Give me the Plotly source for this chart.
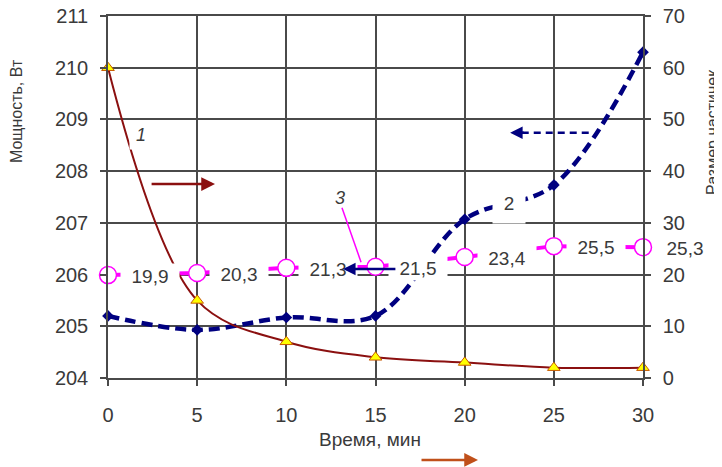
import plotly.graph_objects as go

# ---- data ----
time_min = [0, 5, 10, 15, 20, 25, 30]
size_curve1 = [60, 15, 7, 4, 3, 2, 2]                         # right axis (curve 1)
power_curve2 = [205.2, 204.93, 205.17, 205.2, 207.07, 207.73, 210.3]  # left axis (curve 2)
size_curve3 = [19.9, 20.3, 21.3, 21.5, 23.4, 25.5, 25.3]       # right axis (curve 3)
labels_curve3 = ["19,9", "20,3", "21,3", "21,5", "23,4", "25,5", "25,3"]
x_ticks = [0, 5, 10, 15, 20, 25, 30]
left_ticks = [204, 205, 206, 207, 208, 209, 210, 211]
right_ticks = [0, 10, 20, 30, 40, 50, 60, 70]

FONT = "Liberation Sans, Arial, sans-serif"
TXT = "#3a3a3a"
GRID = "#4a4a4a"

fig = go.Figure()

# curve 3 (magenta, circles)
fig.add_trace(go.Scatter(
    x=time_min, y=size_curve3, yaxis="y2", mode="lines+markers",
    line=dict(color="#FF00FF", width=4),
    marker=dict(symbol="circle", size=17, color="white", line=dict(color="#FF00FF", width=1.5)),
    cliponaxis=False, showlegend=False))

# curve 2 (navy dashed)
fig.add_trace(go.Scatter(
    x=time_min, y=power_curve2, yaxis="y", mode="lines+markers",
    line=dict(color="#000080", width=4.5, dash="11px,6px", shape="spline", smoothing=1.0),
    marker=dict(symbol="diamond", size=9, color="#000080"),
    cliponaxis=False, showlegend=False))

# curve 1 (dark red, yellow triangles)
fig.add_trace(go.Scatter(
    x=time_min, y=size_curve1, yaxis="y2", mode="lines+markers",
    line=dict(color="#8B1010", width=2, shape="spline", smoothing=1.0),
    marker=dict(symbol="triangle-up", size=11, color="#FFFF00", line=dict(color="#C85A00", width=1)),
    cliponaxis=False, showlegend=False))

C = dict(xanchor="center", yanchor="middle")
annotations = []
# data labels of curve 3 (white boxes)
for xv, yv, lab in zip(time_min, size_curve3, labels_curve3):
    annotations.append(dict(
        x=xv, y=yv, xref="x", yref="y2", text=lab, showarrow=False,
        xshift=42, yshift=-1, width=56, height=22, bgcolor="white",
        font=dict(family=FONT, size=19, color=TXT), **C))

# curve number labels
annotations.append(dict(x=1.85, y=208.70, xref="x", yref="y", text="<i>1</i>", showarrow=False,
                        width=20, height=26, bgcolor="white",
                        font=dict(family=FONT, size=18, color=TXT), **C))
annotations.append(dict(x=22.49, y=207.38, xref="x", yref="y", text="2", showarrow=False,
                        width=30, height=38, bgcolor="white",
                        font=dict(family=FONT, size=19, color=TXT), **C))
annotations.append(dict(x=13.01, y=207.48, xref="x", yref="y", text="<i>3</i>", showarrow=False,
                        font=dict(family=FONT, size=18, color=TXT), **C))

# arrows
annotations.append(dict(x=6.0, y=207.75, ax=2.36, ay=207.75, xref="x", yref="y", axref="x", ayref="y",
                        text="", showarrow=True, arrowhead=2, arrowsize=1.1, arrowwidth=2.5,
                        arrowcolor="#8B1010"))
annotations.append(dict(x=13.18, y=206.11, ax=16.2, ay=206.11, xref="x", yref="y", axref="x", ayref="y",
                        text="", showarrow=True, arrowhead=2, arrowsize=1.0, arrowwidth=2.5,
                        arrowcolor="#000080"))
annotations.append(dict(x=22.55, y=208.74, ax=23.4, ay=208.74, xref="x", yref="y", axref="x", ayref="y",
                        text="", showarrow=True, arrowhead=2, arrowsize=1.0, arrowwidth=2.5,
                        arrowcolor="#000080"))
annotations.append(dict(x=0.6916, y=-0.2265, ax=-58, ay=0, xref="paper", yref="paper",
                        text="", showarrow=True, arrowhead=2, arrowsize=1.1, arrowwidth=2.5,
                        arrowcolor="#C0501A"))

# axis titles (anchored at their lower ends, like the reference)
annotations.append(dict(x=-0.172, y=0.588, xref="paper", yref="paper", text="Мощность, Вт",
                        textangle=-90, showarrow=False, xanchor="center", yanchor="bottom",
                        font=dict(family=FONT, size=16, color=TXT)))
annotations.append(dict(x=1.129, y=0.50, xref="paper", yref="paper", text="Размер частичек",
                        textangle=-90, showarrow=False, xanchor="center", yanchor="bottom",
                        font=dict(family=FONT, size=16, color=TXT)))
annotations.append(dict(x=0.49, y=-0.171, xref="paper", yref="paper", text="Время, мин",
                        showarrow=False, font=dict(family=FONT, size=19, color=TXT), **C))

shapes = [
    # dashed shaft of the curve-2 arrow
    dict(type="line", xref="x", yref="y", x0=23.2, y0=208.74, x1=27.15, y1=208.74,
         line=dict(color="#000080", width=2.5, dash="7px,5px")),
    # leader line of label 3
    dict(type="line", xref="x", yref="y", x0=13.12, y0=207.29, x1=14.19, y1=206.24,
         line=dict(color="#FF00FF", width=1.5)),
]

axis_common = dict(showgrid=True, gridcolor=GRID, gridwidth=1.5, zeroline=False,
                   ticks="outside", ticklen=6, tickwidth=1.5, tickcolor=GRID,
                   showline=True, linecolor=GRID, linewidth=1.5, automargin=False,
                   ticklabeloverflow="allow",
                   tickfont=dict(family=FONT, size=20, color=TXT))

# the page body has an 8px margin, so the figure is sized/offset accordingly
fig.update_layout(
    width=714, height=459,
    margin=dict(l=100, r=79, t=8, b=89, autoexpand=False),
    paper_bgcolor="white", plot_bgcolor="white",
    showlegend=False,
    xaxis=dict(range=[0, 30], tickvals=x_ticks, ticklabelstandoff=12, mirror=True, **axis_common),
    yaxis=dict(range=[204, 211], tickvals=left_ticks, ticklabelstandoff=8, mirror=False, **axis_common),
    yaxis2=dict(range=[0, 70], tickvals=right_ticks, overlaying="y", side="right",
                ticklabelstandoff=8, **axis_common),
    annotations=annotations,
    shapes=shapes,
)

fig.write_html("out.html")
